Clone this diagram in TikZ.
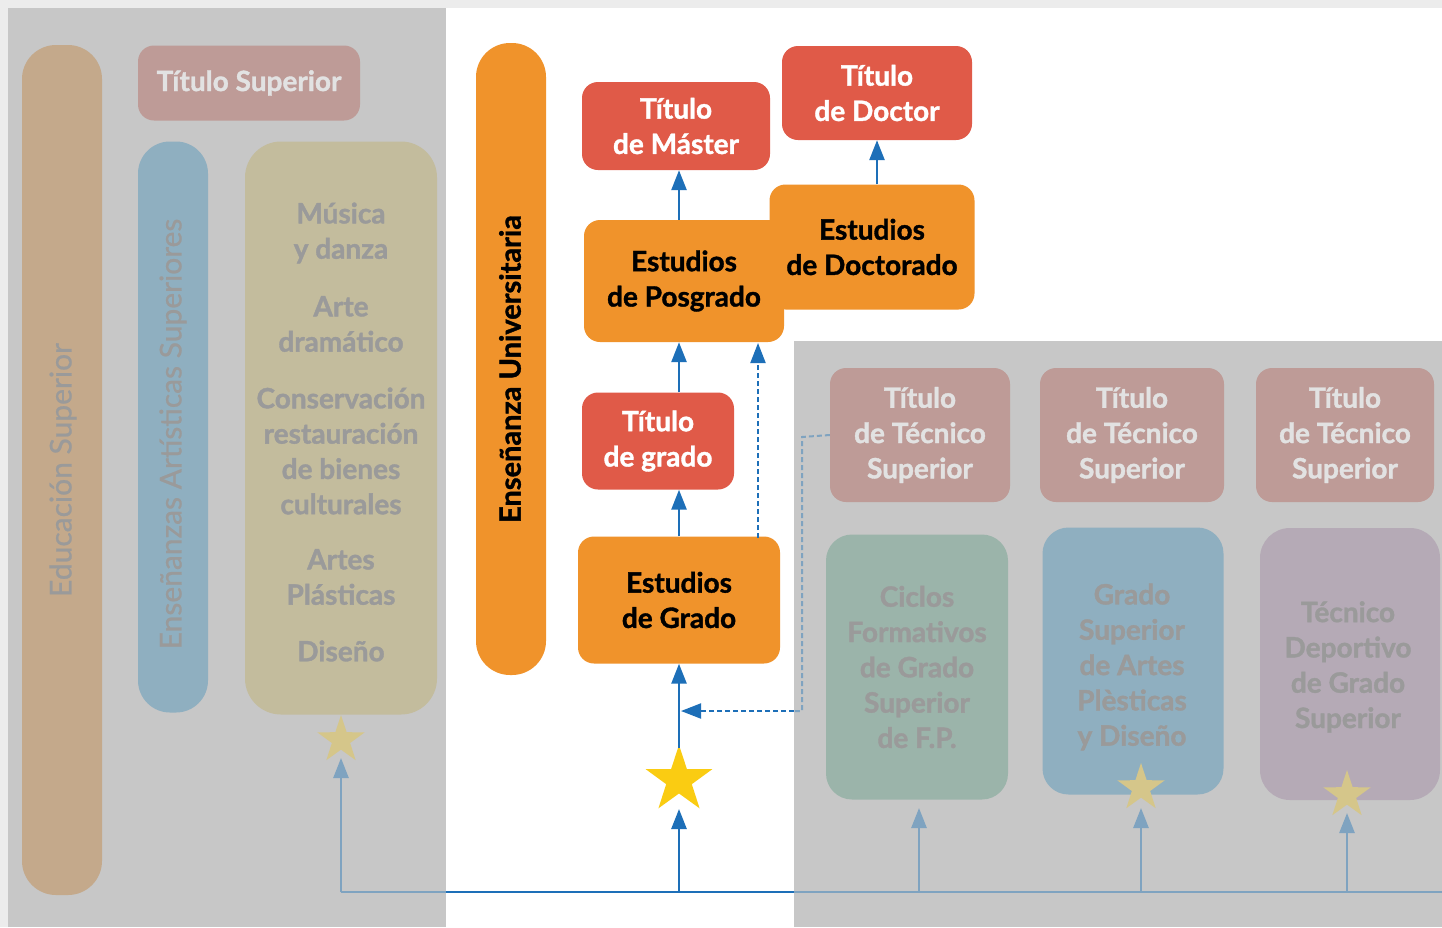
\documentclass[tikz,border=0pt]{standalone}
\usepackage{fontspec}
\setmainfont{Lato}[BoldFeatures={FakeBold=1.3}]
\newfontfamily\medfont{Lato}[FakeBold=0.7]
\usetikzlibrary{shapes.geometric,arrows.meta}
\definecolor{bggray}{HTML}{C7C7C7}
\definecolor{edge}{HTML}{ECECEC}
\definecolor{orng}{HTML}{F0932B}
\definecolor{rd}{HTML}{E05A48}
\definecolor{arblue}{HTML}{1D6FB8}
\definecolor{stary}{HTML}{FACC12}
\definecolor{ftan}{HTML}{C4A98B}
\definecolor{fred}{HTML}{BE9B97}
\definecolor{fblue}{HTML}{8FAFC0}
\definecolor{fkhaki}{HTML}{C3BC9D}
\definecolor{fgreen}{HTML}{9BB4AA}
\definecolor{fpurple}{HTML}{B5AAB6}
\definecolor{ftext}{HTML}{9A9A9A}
\definecolor{fwtext}{HTML}{E2E2E2}
\definecolor{farrow}{HTML}{7FA3C0}
\definecolor{fstar}{HTML}{D5C68A}
\tikzset{
  txt/.style={font=\bfseries\fontsize{28}{35.3}\selectfont, align=center},
  boxshape/.style={rounded corners=16pt, inner sep=0pt, txt},
  pill/.style={rounded corners=34pt, inner sep=0pt},
  bright/.style={boxshape, fill=orng, text=black},
  brightred/.style={boxshape, fill=rd, text=white},
  fadedbox/.style={boxshape, text=ftext},
  fadedred/.style={boxshape, fill=fred, text=fwtext},
  arr/.style={draw=arblue, line width=2.6pt, -{Triangle[width=15pt,length=20pt]}},
  farr/.style={draw=farrow, line width=2.6pt, -{Triangle[width=15pt,length=20pt]}},
  dashedarr/.style={draw=arblue, line width=2pt, dash pattern=on 5pt off 3pt, -{Triangle[width=15pt,length=20pt]}},
  fdashed/.style={draw=farrow, line width=2pt, dash pattern=on 5pt off 3pt},
  bigstar/.style={star, star points=5, star point ratio=2.6, inner sep=0pt, minimum size=70pt, fill=stary},
  smallstar/.style={star, star points=5, star point ratio=2.6, inner sep=0pt, minimum size=50pt, fill=fstar},
  vtext/.style={rotate=90, text=ftext, font=\medfont\fontsize{30}{32}\selectfont},
}
\begin{document}
\begin{tikzpicture}[x=1pt,y=-1pt]
\useasboundingbox (0,0) rectangle (1442,927);
% backgrounds
\fill[white] (0,0) rectangle (1442,927);
\fill[edge] (0,0) rectangle (1442,8);
\fill[edge] (0,0) rectangle (8,927);
\fill[bggray] (8,8) rectangle (446,927);
\fill[bggray] (794,341) rectangle (1442,927);

% left faded panel
\node[pill, fill=ftan, minimum width=80pt, minimum height=850pt] (edu) at (62,470) {};
\node[vtext] (edut) at (63,470) {Educación Superior};
\node[fadedred, minimum width=222pt, minimum height=75pt] (titsup) at (249,83) {Título Superior};
\node[pill, rounded corners=32pt, fill=fblue, minimum width=70pt, minimum height=571pt] (ensart) at (173,427) {};
\node[vtext] (ensartt) at (173,434) {Enseñanzas Artísticas Superiores};
\node[fadedbox, fill=fkhaki, rounded corners=36pt, minimum width=192pt, minimum height=573pt] (artes) at (341,428) {};
\node[txt, text=ftext] (musica) at (341,233) {Música\\y danza};
\node[txt, text=ftext] (arte) at (341,324) {Arte\\dramático};
\node[txt, text=ftext] (conserv) at (341,451) {Conservación\\restauración\\de bienes\\culturales};
\node[txt, text=ftext] (plast) at (341,577) {Artes\\Plásticas};
\node[txt, text=ftext] (diseno) at (341,651) {Diseño};
\node[smallstar] (star1) at (341,740) {};

% university column
\node[pill, fill=orng, minimum width=70pt, minimum height=632pt] (univ) at (511,359) {};
\node[rotate=90, font=\bfseries\fontsize{29}{30}\selectfont] (univt) at (510,369) {Enseñanza Universitaria};
\node[brightred, minimum width=188pt, minimum height=88pt] (master) at (676,126) {Título\\de Máster};
\node[brightred, minimum width=190pt, minimum height=94pt] (doctor) at (877,93) {Título\\de Doctor};
\node[bright, minimum width=205pt, minimum height=125pt] (doctorado) at (872,247) {Estudios\\de Doctorado};
\node[bright, minimum width=200pt, minimum height=122pt] (posgrado) at (684,281) {Estudios\\de Posgrado};
\node[brightred, minimum width=152pt, minimum height=97pt] (titgrado) at (658,441) {Título\\de grado};
\node[bright, minimum width=202pt, minimum height=127pt] (estgrado) at (679,600) {Estudios\\de Grado};
\node[bigstar] (star2) at (679,780) {};

% right faded panel
\node[fadedred, minimum width=180pt, minimum height=134pt] (tts1) at (920,435) {Título\\de Técnico\\Superior};
\node[fadedred, minimum width=184pt, minimum height=134pt] (tts2) at (1132,435) {Título\\de Técnico\\Superior};
\node[fadedred, minimum width=178pt, minimum height=134pt] (tts3) at (1345,435) {Título\\de Técnico\\Superior};
\node[fadedbox, fill=fgreen, rounded corners=26pt, minimum width=182pt, minimum height=265pt] (ciclos) at (917,667) {};
\node[txt, text=ftext] (ciclost) at (917,667) {Ciclos\\Formativos\\de Grado\\Superior\\de F.P.};
\node[fadedbox, fill=fblue, rounded corners=26pt, minimum width=181pt, minimum height=267pt] (gsap) at (1133,661) {};
\node[txt, text=ftext] (gsapt) at (1132,667) {Grado\\Superior\\de Artes\\Plèsticas\\y Diseño};
\node[fadedbox, fill=fpurple, rounded corners=30pt, minimum width=180pt, minimum height=272pt] (tdep) at (1350,664) {};
\node[txt, text=ftext] (tdept) at (1348,667) {Técnico\\Deportivo\\de Grado\\Superior};
\node[smallstar] (star3) at (1141,788) {};
\node[smallstar] (star4) at (1347,795) {};

% baseline coordinates
\coordinate (b1) at (341,892);
\coordinate (b2) at (679,892);
\coordinate (bl) at (446,892);
\coordinate (br) at (794,892);
\coordinate (b3) at (919,892);
\coordinate (b4) at (1141,892);
\coordinate (b5) at (1347,892);
\coordinate (bend) at (1442,892);

% baseline
\draw[farrow, line width=2.6pt] (b1) -- (bl);
\draw[arblue, line width=2.6pt] (bl) -- (br);
\draw[farrow, line width=2.6pt] (br) -- (bend);

% faded arrows
\draw[farr] (b1) -- ([yshift=-18pt]star1.center);
\draw[farr] (b3) -- ([yshift=84pt]b3);
\draw[farr] (b4) -- ([yshift=-20pt]star3.center);
\draw[farr] (b5) -- ([yshift=-18pt]star4.center);

% bright arrows
\draw[arr] (b2) -- ([yshift=-29pt]star2.center);
\draw[arr] ([yshift=32pt]star2.center) -- (estgrado.south);
\draw[arr] (estgrado.north) -- (titgrado.south -| estgrado.north);
\draw[arr] (titgrado.north -| estgrado.north) -- (posgrado.south -| estgrado.north);
\draw[arr] (posgrado.north -| estgrado.north) -- (master.south -| estgrado.north);
\draw[arr] (doctorado.north -| doctor.south) -- (doctor.south);

% dashed connectors
\coordinate (d1) at (802,437);
\coordinate (d2) at (802,711);
\coordinate (d3) at (794,711);
\coordinate (d4) at (681,711);
\draw[fdashed] (tts1.west) -- (d1) -- (d2) -- (d3);
\draw[dashedarr] (d3) -- (d4);
\coordinate (e1) at (758,538);
\coordinate (e2) at (758,343);
\draw[dashedarr] (e1) -- (e2);
\end{tikzpicture}
\end{document}
